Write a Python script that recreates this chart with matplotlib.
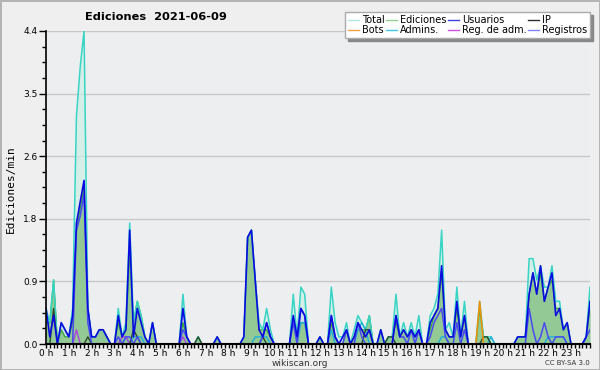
import numpy as np
import matplotlib
matplotlib.use("Agg")
import matplotlib.pyplot as plt
from matplotlib.lines import Line2D

# 10-minute bins, values in edits per minute (one line = 2 hours)
total = [
    0.5, 0.3, 0.9, 0.0, 0.3, 0.2, 0.1, 0.5, 3.2, 3.9, 4.4, 0.5,
    0.1, 0.1, 0.2, 0.2, 0.1, 0.0, 0.0, 0.5, 0.1, 0.3, 1.7, 0.3,
    0.6, 0.4, 0.1, 0.0, 0.3, 0.0, 0.0, 0.0, 0.0, 0.0, 0.0, 0.0,
    0.7, 0.1, 0.0, 0.0, 0.1, 0.0, 0.0, 0.0, 0.0, 0.1, 0.0, 0.0,
    0.0, 0.0, 0.0, 0.0, 0.1, 1.5, 1.6, 0.9, 0.3, 0.2, 0.5, 0.2,
    0.0, 0.0, 0.0, 0.0, 0.0, 0.7, 0.1, 0.8, 0.7, 0.0, 0.0, 0.0,
    0.1, 0.0, 0.0, 0.8, 0.3, 0.1, 0.1, 0.3, 0.0, 0.2, 0.4, 0.3,
    0.2, 0.4, 0.0, 0.0, 0.2, 0.0, 0.1, 0.1, 0.7, 0.1, 0.3, 0.1,
    0.3, 0.1, 0.4, 0.0, 0.0, 0.4, 0.5, 0.7, 1.6, 0.2, 0.3, 0.1,
    0.8, 0.1, 0.6, 0.0, 0.0, 0.0, 0.6, 0.1, 0.1, 0.1, 0.0, 0.0,
    0.0, 0.0, 0.0, 0.0, 0.1, 0.1, 0.1, 1.2, 1.2, 0.9, 1.1, 0.8,
    0.8, 1.1, 0.6, 0.6, 0.2, 0.3, 0.0, 0.0, 0.0, 0.0, 0.1, 0.8,
]
ediciones = [
    0.3, 0.3, 0.9, 0.0, 0.2, 0.1, 0.1, 0.3, 1.6, 1.9, 2.2, 0.5,
    0.1, 0.1, 0.2, 0.2, 0.1, 0.0, 0.0, 0.3, 0.1, 0.2, 1.3, 0.3,
    0.6, 0.4, 0.1, 0.0, 0.3, 0.0, 0.0, 0.0, 0.0, 0.0, 0.0, 0.0,
    0.3, 0.1, 0.0, 0.0, 0.1, 0.0, 0.0, 0.0, 0.0, 0.1, 0.0, 0.0,
    0.0, 0.0, 0.0, 0.0, 0.1, 1.5, 1.6, 0.9, 0.2, 0.2, 0.2, 0.1,
    0.0, 0.0, 0.0, 0.0, 0.0, 0.3, 0.1, 0.3, 0.3, 0.0, 0.0, 0.0,
    0.1, 0.0, 0.0, 0.3, 0.1, 0.0, 0.0, 0.2, 0.0, 0.1, 0.2, 0.2,
    0.2, 0.4, 0.0, 0.0, 0.2, 0.0, 0.1, 0.1, 0.3, 0.1, 0.2, 0.1,
    0.2, 0.1, 0.2, 0.0, 0.0, 0.2, 0.4, 0.5, 1.0, 0.2, 0.1, 0.1,
    0.5, 0.1, 0.4, 0.0, 0.0, 0.0, 0.5, 0.1, 0.1, 0.0, 0.0, 0.0,
    0.0, 0.0, 0.0, 0.0, 0.1, 0.1, 0.1, 0.7, 1.0, 0.7, 1.0, 0.6,
    0.8, 0.9, 0.5, 0.5, 0.2, 0.3, 0.0, 0.0, 0.0, 0.0, 0.1, 0.5,
]
usuarios = [
    0.5, 0.1, 0.4, 0.0, 0.3, 0.2, 0.1, 0.4, 1.7, 2.0, 2.3, 0.5,
    0.1, 0.1, 0.2, 0.2, 0.1, 0.0, 0.0, 0.4, 0.1, 0.2, 1.6, 0.1,
    0.5, 0.3, 0.1, 0.0, 0.3, 0.0, 0.0, 0.0, 0.0, 0.0, 0.0, 0.0,
    0.5, 0.1, 0.0, 0.0, 0.0, 0.0, 0.0, 0.0, 0.0, 0.1, 0.0, 0.0,
    0.0, 0.0, 0.0, 0.0, 0.1, 1.5, 1.6, 0.9, 0.2, 0.1, 0.3, 0.1,
    0.0, 0.0, 0.0, 0.0, 0.0, 0.4, 0.1, 0.5, 0.4, 0.0, 0.0, 0.0,
    0.1, 0.0, 0.0, 0.4, 0.1, 0.0, 0.1, 0.2, 0.0, 0.1, 0.3, 0.2,
    0.1, 0.2, 0.0, 0.0, 0.2, 0.0, 0.0, 0.0, 0.4, 0.1, 0.2, 0.1,
    0.2, 0.1, 0.2, 0.0, 0.0, 0.3, 0.4, 0.5, 1.1, 0.2, 0.1, 0.1,
    0.6, 0.1, 0.4, 0.0, 0.0, 0.0, 0.0, 0.0, 0.0, 0.0, 0.0, 0.0,
    0.0, 0.0, 0.0, 0.0, 0.1, 0.1, 0.1, 0.7, 1.0, 0.7, 1.1, 0.6,
    0.8, 1.0, 0.4, 0.5, 0.2, 0.3, 0.0, 0.0, 0.0, 0.0, 0.1, 0.6,
]
ip = [0.0] * 144
for k, v in [(2, 0.5), (11, 0.1), (23, 0.2), (24, 0.1), (40, 0.1), (57, 0.1),
             (84, 0.2), (85, 0.2), (90, 0.1), (91, 0.1), (115, 0.1), (116, 0.1)]:
    ip[k] = v
bots = [0.0] * 144
bots[114] = 0.6
admins = [0.0] * 144
for k, v in [(21, 0.1), (23, 0.1), (24, 0.1), (25, 0.1), (55, 0.1), (56, 0.1),
             (57, 0.1), (58, 0.1), (67, 0.3), (68, 0.3), (75, 0.2), (82, 0.2),
             (83, 0.3), (84, 0.2), (104, 0.1), (105, 0.1), (117, 0.1),
             (132, 0.1), (133, 0.1), (134, 0.1), (135, 0.1), (136, 0.1)]:
    admins[k] = v
reg_adm = [0.0] * 144
for k, v in [(8, 0.2), (20, 0.1), (21, 0.1), (36, 0.1)]:
    reg_adm[k] = v
registros = [0.0] * 144
for k, v in [(8, 1.6), (9, 1.8), (10, 2.1), (11, 0.3), (19, 0.1), (21, 0.1),
             (22, 0.1), (24, 0.1), (36, 0.2), (37, 0.1), (57, 0.1), (58, 0.3),
             (59, 0.1), (65, 0.3), (67, 0.5), (68, 0.4), (75, 0.4), (76, 0.1),
             (79, 0.2), (82, 0.3), (83, 0.1), (92, 0.4), (93, 0.1), (94, 0.1),
             (96, 0.2), (98, 0.2), (101, 0.1), (102, 0.3), (103, 0.4), (104, 0.5),
             (105, 0.1), (108, 0.3), (110, 0.2), (127, 0.5), (128, 0.2), (130, 0.1),
             (131, 0.3), (132, 0.1), (134, 0.1), (135, 0.1), (136, 0.1),
             (142, 0.1), (143, 0.2)]:
    registros[k] = v

hour_labels = ["%d h" % h for h in range(24)]
x = np.arange(len(total))

fig = plt.figure(figsize=(6, 3.7), dpi=100, facecolor="#efefef",
                 edgecolor="#b4b4b4", linewidth=2)
ax = fig.add_axes([46 / 600, 26 / 370, 544 / 600, 313 / 370])
ax.set_facecolor("#eceef0")

# fills
ax.fill_between(x, total, color="#cdeee6", alpha=0.7, lw=0)
ax.fill_between(x, usuarios, color="#b8c8f0", alpha=0.35, lw=0)
ax.fill_between(x, ediciones, color="#8cc78c", alpha=0.9, lw=0)
ax.plot(x, ediciones, color="#3aa83a", lw=1)

# lines
ax.plot(x, total, color="#38d4c4", lw=1.1)
ax.plot(x, admins, color="#20b0d8", lw=1)
ax.plot(x, reg_adm, color="#b040e0", lw=1)
ax.plot(x, ip, color="#2a4a2a", lw=1)
ax.plot(x, registros, color="#4a4af0", lw=1.1)
ax.plot(x, bots, color="#f09000", lw=1.1)
ax.plot(x, usuarios, color="#0a0ae0", lw=1.2)

ax.set_xlim(0, 143)
ax.set_ylim(0, 4.4)
yt = np.linspace(0, 4.4, 6)
ax.set_yticks(yt)
ax.set_yticklabels(["%.1f" % v for v in yt], fontsize=6.5)
ax.set_yticks(np.linspace(0, 4.4, 21), minor=True)
ax.set_xticks(np.arange(0, 144, 6))
ax.set_xticklabels(hour_labels, fontsize=6.5)
ax.set_xticks(np.arange(0, 144, 1), minor=True)
ax.tick_params(axis="y", which="major", length=5, width=1, pad=1)
ax.tick_params(axis="y", which="minor", length=3, width=1)
ax.tick_params(axis="x", which="major", length=3, width=1, pad=0.5)
ax.tick_params(axis="x", which="minor", length=3, width=1)
ax.grid(axis="y", which="major", color="#c8c8c8", lw=1)
ax.set_axisbelow(True)
for s in ["top", "right"]:
    ax.spines[s].set_visible(False)
ax.spines["left"].set_linewidth(1.2)
ax.spines["bottom"].set_linewidth(1.5)

fig.text(0.018, 0.49, "Ediciones/min", rotation=90, va="center", ha="center",
         fontsize=8, family="DejaVu Sans Mono")
fig.text(85 / 600, 1 - 17 / 370, "Ediciones  2021-06-09", fontsize=8.2,
         fontweight="bold", va="center", ha="left")
fig.text(0.5, 1 - 363 / 370, "wikiscan.org", fontsize=6.5, ha="center",
         va="center", color="#333333")
fig.text(590 / 600, 1 - 363 / 370, "CC BY-SA 3.0", fontsize=5, ha="right",
         va="center", color="#333333")

names = ["Total", "Bots", "Ediciones", "Admins.", "Usuarios", "Reg. de adm.",
         "IP", "Registros"]
colors = ["#b0e8e0", "#f0a040", "#90d090", "#40c8e0", "#4040e0", "#d050e0",
          "#303030", "#8080f0"]
handles = [Line2D([], [], color=c, lw=1) for c in colors]
leg = fig.legend(handles, names, ncol=4, loc="upper right",
                 bbox_to_anchor=(590 / 600, 1 - 12 / 370), fontsize=7,
                 frameon=True, fancybox=False, shadow={"color": "#888888", "alpha": 1},
                 handlelength=1.1, handletextpad=0.3, columnspacing=0.2,
                 labelspacing=0.05, borderpad=0.3, borderaxespad=0)
leg.get_frame().set_edgecolor("#aaaaaa")
leg.get_frame().set_linewidth(1)

fig.savefig("out.png", dpi=100)
